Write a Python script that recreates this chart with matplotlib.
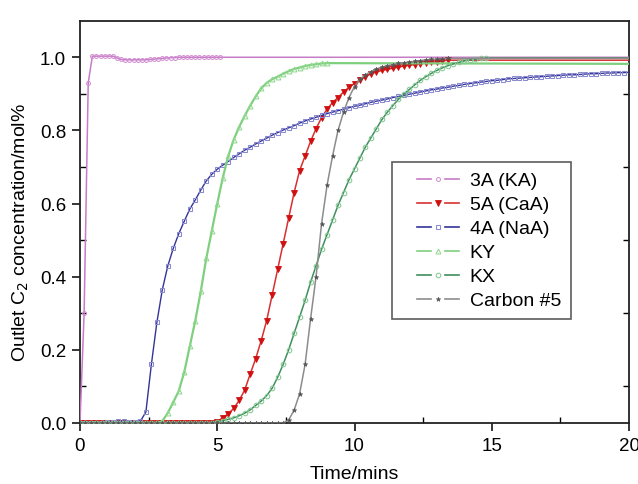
import numpy as np
import matplotlib
matplotlib.use("Agg")
import matplotlib.pyplot as plt
from matplotlib.lines import Line2D
from matplotlib.legend_handler import HandlerBase
from matplotlib.ticker import FixedLocator

plt.rcParams['font.family'] = ['Liberation Sans', 'DejaVu Sans']

# ---------------- data ----------------
series_names = ["3A (KA)", "5A (CaA)", "4A (NaA)", "KY", "KX", "Carbon #5"]

# 3A (KA): sampled every 0.15 min up to 5.1 min, then last point at 20 min
t_3a = [0.0, 0.15, 0.3, 0.45, 0.6, 0.75, 0.9, 1.05, 1.2, 1.35,
        1.5, 1.65, 1.8, 1.95, 2.1, 2.25, 2.4, 2.55, 2.7, 2.85,
        3.0, 3.15, 3.3, 3.45, 3.6, 3.75, 3.9, 4.05, 4.2, 4.35,
        4.5, 4.65, 4.8, 4.95, 5.1, 20.0]
c_3a = [0.0, 0.3, 0.93, 1.003, 1.003, 1.003, 1.003, 1.003, 1.003, 0.998,
        0.994, 0.993, 0.993, 0.993, 0.993, 0.993, 0.993, 0.994, 0.995, 0.996,
        0.997, 0.998, 0.999, 0.999, 1.0, 1.0, 1.0, 1.0, 1.0, 1.0,
        1.0, 1.0, 1.0, 1.0, 1.0, 1.0]

# other sorbents: sampled every 0.2 min
time_step = 0.2

c_4a = [0, 0, 0, 0, 0, 0.002, 0.004, 0.005, 0.005, 0.004,
        0.004, 0.005, 0.03, 0.16, 0.275, 0.365, 0.43, 0.478, 0.518, 0.552,
        0.585, 0.61, 0.637, 0.662, 0.68, 0.694, 0.705, 0.715, 0.726, 0.736,
        0.746, 0.754, 0.763, 0.771, 0.779, 0.787, 0.794, 0.801, 0.807, 0.813,
        0.82, 0.826, 0.831, 0.836, 0.841, 0.846, 0.85, 0.854, 0.858, 0.862,
        0.866, 0.869, 0.873, 0.877, 0.88, 0.883, 0.886, 0.89, 0.893, 0.896,
        0.899, 0.902, 0.905, 0.908, 0.911, 0.913, 0.916, 0.918, 0.921, 0.923,
        0.926, 0.928, 0.93, 0.932, 0.934, 0.936, 0.937, 0.939, 0.941, 0.942,
        0.943, 0.944, 0.945, 0.946, 0.947, 0.948, 0.949, 0.95, 0.951, 0.952,
        0.952, 0.953, 0.954, 0.955, 0.955, 0.956, 0.957, 0.957, 0.958, 0.958,
        0.959]

c_5a = [0, 0, 0, 0, 0, 0, 0, 0, 0, 0,
        0, 0, 0, 0, 0, 0, 0, 0, 0, 0,
        0, 0, 0, 0, 0, 0.004, 0.014, 0.025, 0.04, 0.062,
        0.09, 0.134, 0.176, 0.225, 0.28, 0.35, 0.42, 0.49, 0.56, 0.63,
        0.69, 0.73, 0.77, 0.805, 0.835, 0.858, 0.876, 0.89, 0.905, 0.918,
        0.928, 0.938, 0.947, 0.955, 0.96, 0.964, 0.967, 0.97, 0.973, 0.976,
        0.978, 0.98, 0.982, 0.984, 0.986, 0.988, 0.99, 0.992]
c_5a_end = 0.992

c_ky = [0, 0, 0, 0, 0, 0, 0, 0, 0, 0,
        0, 0, 0, 0, 0, 0.005, 0.028, 0.057, 0.088, 0.14,
        0.21, 0.28, 0.36, 0.45, 0.525, 0.6, 0.67, 0.73, 0.775, 0.81,
        0.84, 0.868, 0.893, 0.915, 0.93, 0.94, 0.947, 0.955, 0.962, 0.968,
        0.972, 0.976, 0.979, 0.981, 0.983, 0.984]
c_ky_end = 0.982

c_kx = [0, 0, 0, 0, 0, 0, 0, 0, 0, 0,
        0, 0, 0, 0, 0, 0, 0, 0, 0, 0,
        0, 0, 0, 0, 0, 0.003, 0.006, 0.01, 0.014, 0.02,
        0.027, 0.036, 0.048, 0.06, 0.075, 0.095, 0.125, 0.16, 0.2, 0.245,
        0.29, 0.335, 0.385, 0.43, 0.475, 0.515, 0.555, 0.595, 0.63, 0.665,
        0.695, 0.725, 0.755, 0.78, 0.805, 0.83, 0.85, 0.868, 0.885, 0.9,
        0.912, 0.925, 0.937, 0.947, 0.956, 0.964, 0.971, 0.977, 0.982, 0.986,
        0.99, 0.993, 0.995, 0.997, 0.998]
c_kx_end = 0.998

c_c5 = [0, 0, 0, 0, 0, 0, 0, 0, 0, 0,
        0, 0, 0, 0, 0, 0, 0, 0, 0, 0,
        0, 0, 0, 0, 0, 0, 0, 0, 0, 0,
        0, 0, 0, 0, 0, 0, 0, 0, 0.008, 0.035,
        0.08, 0.16, 0.285, 0.40, 0.545, 0.65, 0.73, 0.80, 0.85, 0.89,
        0.92, 0.94, 0.952, 0.961, 0.968, 0.973, 0.977, 0.98, 0.983, 0.985,
        0.987, 0.989, 0.991, 0.993, 0.994, 0.995, 0.996, 0.997]
c_c5_end = 0.997

t_end = 20.0


def with_end(vals, end_val):
    t = list(np.round(np.arange(len(vals)) * time_step, 2))
    if end_val is None:
        return t, list(vals)
    return t + [t_end], list(vals) + [end_val]


# ---------------- styles ----------------
styles = {
    "3A (KA)":   dict(color='#c77cc7', marker='o', mfc='none', mec='#d08ad0', ms=2.8, mew=0.7, lw=1.1),
    "5A (CaA)":  dict(color='#d83030', marker='v', mfc='#d01010', mec='#d01010', ms=3.8, mew=0.6, lw=1.1),
    "4A (NaA)":  dict(color='#34349a', marker='s', mfc='none', mec='#8a8ad0', ms=3.4, mew=0.75, lw=1.0),
    "KY":        dict(color='#7ed07e', marker='^', mfc='none', mec='#92d892', ms=3.5, mew=0.75, lw=1.6),
    "KX":        dict(color='#3f8f5c', marker='o', mfc='none', mec='#86c895', ms=3.3, mew=0.75, lw=1.1),
    "Carbon #5": dict(color='#8c8c8c', marker='*', mfc='#555555', mec='#555555', ms=3.4, mew=0.4, lw=1.1),
}

fig = plt.figure(figsize=(6.38, 4.85), dpi=100)
ax = fig.add_axes([80 / 638, 1 - 424 / 485, 549 / 638, 402.3 / 485])

data = {
    "3A (KA)": (t_3a, c_3a),
    "5A (CaA)": with_end(c_5a, c_5a_end),
    "4A (NaA)": with_end(c_4a, None),
    "KY": with_end(c_ky, c_ky_end),
    "KX": with_end(c_kx, c_kx_end),
    "Carbon #5": with_end(c_c5, c_c5_end),
}

for name in series_names:
    t, c = data[name]
    st = styles[name]
    ax.plot(t, c, color=st['color'], lw=st['lw'], marker=st['marker'],
            mfc=st['mfc'], mec=st['mec'], ms=st['ms'], mew=st['mew'],
            markevery=slice(0, len(t) - 1), zorder=3)

ax.set_xlim(0, 20)
ax.set_ylim(0, 1.1)

ax.xaxis.set_major_locator(FixedLocator([0, 5, 10, 15, 20]))
ax.xaxis.set_minor_locator(FixedLocator([2.5, 7.5, 12.5, 17.5]))
ax.yaxis.set_major_locator(FixedLocator([0.0, 0.2, 0.4, 0.6, 0.8, 1.0]))
ax.yaxis.set_minor_locator(FixedLocator([0.1, 0.3, 0.5, 0.7, 0.9]))
ax.set_xticklabels(["0", "5", "10", "15", "20"])
ax.set_yticklabels(["0.0", "0.2", "0.4", "0.6", "0.8", "1.0"])

ax.tick_params(axis='both', which='major', direction='out', length=6, width=1.1,
               labelsize=13.5, pad=4, colors='black')
ax.tick_params(axis='both', which='minor', direction='in', length=4, width=1.0)
ax.tick_params(axis='y', which='minor', right=True)
ax.tick_params(axis='y', which='major', right=False)

for sp in ax.spines.values():
    sp.set_linewidth(1.3)
    sp.set_color('#222222')

ax.set_xlabel("Time/mins", fontsize=14, labelpad=8)
ax.set_ylabel("Outlet C$_2$ concentration/mol%", fontsize=14)
ax.yaxis.set_label_coords(-0.09, 0.477)


# ------------- Origin-like legend handles -------------
class OriginHandler(HandlerBase):
    def create_artists(self, legend, orig_handle, xdescent, ydescent,
                       width, height, fontsize, trans):
        y = height / 2 - ydescent
        x0 = -xdescent
        col = orig_handle.get_color()
        l1 = Line2D([x0 + 0.27 * width, x0 + 0.51 * width], [y, y], color=col, lw=1.2)
        l2 = Line2D([x0 + 0.75 * width, x0 + 0.99 * width], [y, y], color=col, lw=1.2)
        m = Line2D([x0 + 0.63 * width], [y], linestyle='none',
                   marker=orig_handle.get_marker(), mfc=orig_handle.get_markerfacecolor(),
                   mec=orig_handle.get_markeredgecolor(), ms=orig_handle.get_markersize(),
                   mew=orig_handle.get_markeredgewidth())
        for a in (l1, l2, m):
            a.set_transform(trans)
        return [l1, l2, m]


handles = []
for name in series_names:
    st = styles[name]
    handles.append(Line2D([], [], color=st['color'], marker=st['marker'], mfc=st['mfc'],
                          mec=st['mec'], ms=st['ms'], mew=st['mew']))

leg = ax.legend(handles, series_names, loc='upper left',
                bbox_to_anchor=((392 - 80) / 549, (424 - 163) / 402.3),
                bbox_transform=ax.transAxes, borderaxespad=0,
                fontsize=14, handlelength=3.0, handletextpad=0.5,
                borderpad=0.5, labelspacing=0.33, frameon=True, fancybox=False,
                handler_map={Line2D: OriginHandler()})
leg.get_frame().set_edgecolor('#333333')
leg.get_frame().set_linewidth(1.2)

fig.savefig("out.png", dpi=100)
